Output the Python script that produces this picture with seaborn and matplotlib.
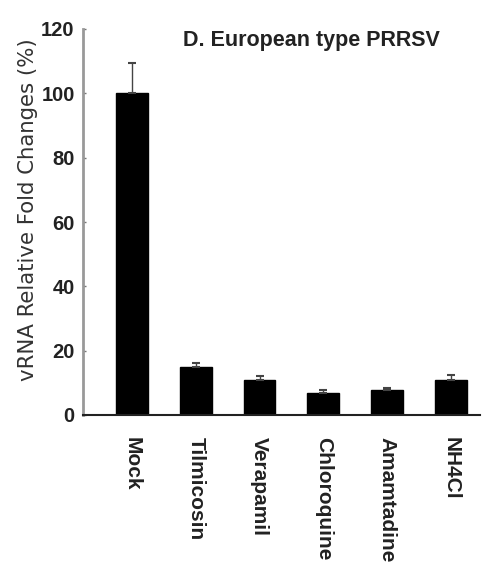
import matplotlib
matplotlib.use("Agg")
import matplotlib.pyplot as plt
import seaborn as sns
import pandas as pd
import numpy as np

# Relative vRNA levels after drug treatment (European type PRRSV)
treatments = ["Mock", "Tilmicosin", "Verapamil", "Chloroquine", "Amamtadine", "NH4Cl"]
fold_change = [100.0, 14.8, 10.8, 6.8, 7.8, 10.8]
error_up = [9.3, 1.5, 1.4, 1.0, 0.6, 1.5]
y_ticks = [0, 20, 40, 60, 80, 100, 120]

sns.set_theme(style="white")
plt.rcParams["font.family"] = ["DejaVu Sans"]

df = pd.DataFrame({"treatment": treatments, "value": fold_change})

fig = plt.figure(figsize=(4.91, 5.69), dpi=100)
ax = fig.add_axes([83 / 491, 154 / 569, 397 / 491, 386 / 569])

sns.barplot(data=df, x="treatment", y="value", color="black", width=0.5,
            errorbar=None, ax=ax, saturation=1)
for p in ax.patches:
    p.set_edgecolor("black")

xpos = np.arange(len(treatments))
ax.errorbar(xpos, fold_change, yerr=[np.zeros(len(error_up)), error_up],
            fmt="none", ecolor="#444444", elinewidth=1.0, capsize=3, capthick=1.5)

ax.set_xlim(-0.77, 5.46)
ax.set_ylim(0, 120)
ax.set_yticks(y_ticks)
ax.set_yticklabels([str(v) for v in y_ticks], family="Liberation Sans",
                   fontsize=14.5, fontweight="bold", color="#222222")
ax.set_xticks(xpos)
ax.set_xticklabels(treatments, rotation=270, family="Liberation Sans",
                   fontsize=15, fontweight="bold", va="top", ha="center",
                   color="#222222")
ax.tick_params(axis="y", direction="in", length=2, width=1, color="#777777", pad=6, left=True)
ax.tick_params(axis="x", length=0, pad=16)

ax.spines["top"].set_visible(False)
ax.spines["right"].set_visible(False)
ax.spines["left"].set_color("#999999")
ax.spines["left"].set_linewidth(2)
ax.spines["bottom"].set_color("#222222")
ax.spines["bottom"].set_linewidth(1.5)

ax.set_xlabel("")
ax.set_ylabel("")
fig.text(28 / 491, 1 - 210 / 569, "vRNA Relative Fold Changes (%)", rotation=90,
         ha="center", va="center", fontsize=15.3, color="#333333")

ax.text(0.252, 0.971, "D. European type PRRSV", transform=ax.transAxes,
        ha="left", va="center", family="Liberation Sans", fontweight="bold",
        fontsize=15.5, color="#222222")

fig.savefig("out.png", dpi=100)
